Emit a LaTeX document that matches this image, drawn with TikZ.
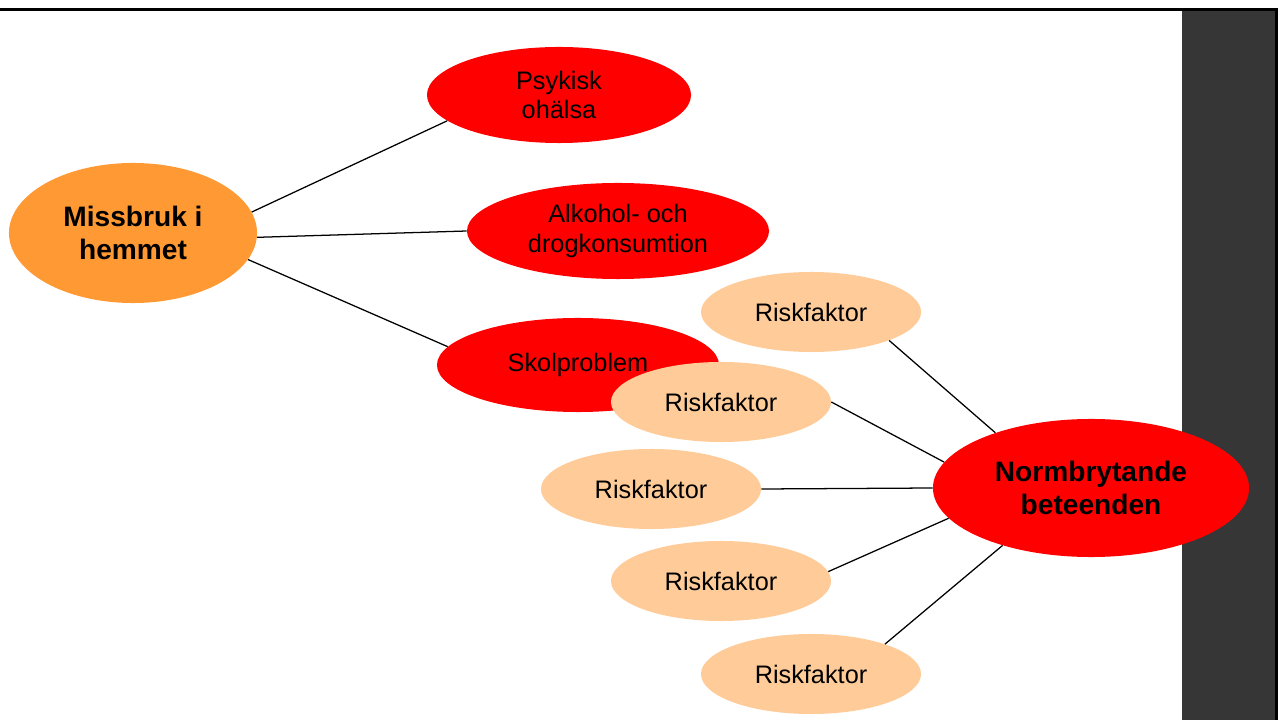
\documentclass[tikz,border=0pt]{standalone}
\usepackage{fontspec}
\setmainfont{Liberation Sans}
\usepackage{xcolor}
\usepackage{tikz}
\usetikzlibrary{shapes,positioning}
\definecolor{hemorange}{RGB}{255,153,51}
\definecolor{riskpeach}{RGB}{255,204,153}
\definecolor{redfill}{RGB}{255,0,0}
\definecolor{sidegray}{RGB}{54,54,54}

\begin{document}
\begin{tikzpicture}[x=0.025cm, y=-0.025cm,
	bubble/.style={ellipse, inner sep=0pt, align=center, font=\fontsize{18}{21}\selectfont},
	redbubble/.style={bubble, fill=redfill},
	riskbubble/.style={bubble, fill=riskpeach, minimum width=5.5cm, minimum height=2cm},
	bigbubble/.style={ellipse, inner sep=0pt, align=center, font=\fontsize{20}{23.5}\selectfont\bfseries},
	link/.style={line width=0.9pt}]
				\useasboundingbox (0,0) rectangle (1282,720);
				\fill[white] (0,0) rectangle (1282,720);
				\fill[sidegray] (1182,11) rectangle (1275,720);
				\fill[black] (1275,8) rectangle (1278,720);
				\fill[black] (0,8) rectangle (1278,11.5);
				\node[bigbubble, fill=hemorange, minimum width=6.2cm, minimum height=3.5cm] (missbruk) at (133,233) {Missbruk i\\hemmet};
				\node[redbubble, minimum width=6.6cm, minimum height=2.4cm] (psykisk) at (559,95) {Psykisk\\ohälsa};
				\node[redbubble, minimum width=7.55cm, minimum height=2.4cm] (alkohol) at (618,231) {Alkohol- och\\drogkonsumtion};
				\node[redbubble, minimum width=7.05cm, minimum height=2.35cm] (skol) at (578,365) {Skolproblem};
				\node[riskbubble] (risk1) at (811,312) {Riskfaktor};
				\node[riskbubble] (risk2) at (721,402) {Riskfaktor};
				\node[riskbubble] (risk3) at (651,489) {Riskfaktor};
				\node[riskbubble] (risk4) at (721,581) {Riskfaktor};
				\node[riskbubble] (risk5) at (811,674) {Riskfaktor};
				\node[bigbubble, fill=redfill, minimum width=7.9cm, minimum height=3.45cm] (norm) at (1091,488) {Normbrytande\\beteenden};
				\draw[link] (missbruk.10) -- (psykisk.193);
				\draw[link] (missbruk.-2) -- (alkohol.180);
				\draw[link] (missbruk.-13) -- (skol.172);
				\draw[link] (risk1.-20) -- (norm.150);
				\draw[link] (risk2.0) -- (norm.170);
				\draw[link] (risk3.0) -- (norm.180);
				\draw[link] (risk4.5) -- (norm.192);
				\draw[link] (risk5.22) -- (norm.213);
			\end{tikzpicture}
\end{document}
